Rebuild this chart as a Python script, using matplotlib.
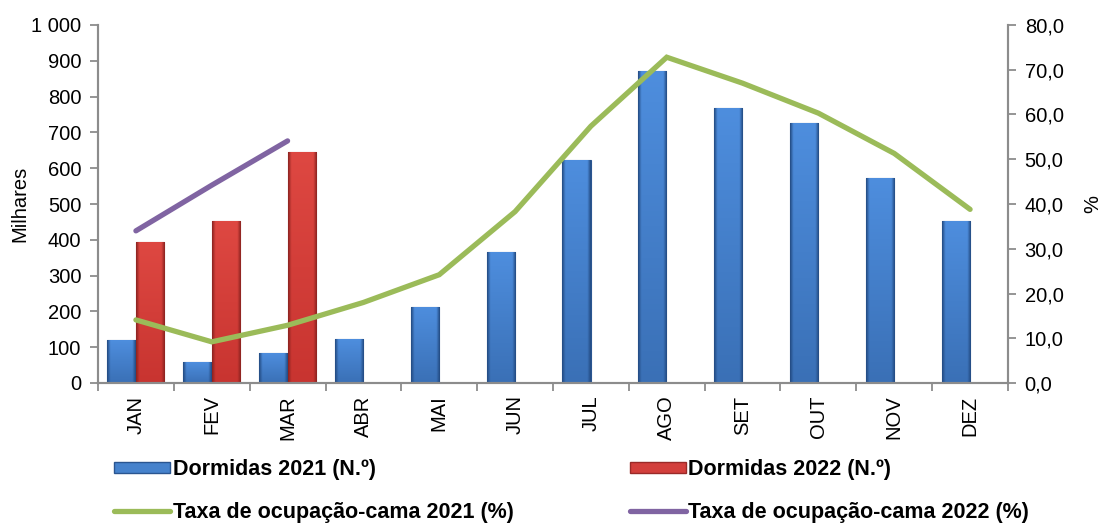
import numpy as np
import matplotlib
matplotlib.use("Agg")
import matplotlib.pyplot as plt
from matplotlib.ticker import FuncFormatter, FixedLocator
from matplotlib.lines import Line2D
from matplotlib.patches import Patch

plt.rcParams['font.family'] = ['Liberation Sans', 'DejaVu Sans']

months = ["JAN", "FEV", "MAR", "ABR", "MAI", "JUN", "JUL", "AGO", "SET", "OUT", "NOV", "DEZ"]
dormidas_2021 = [120, 58, 83, 122, 213, 365, 623, 872, 769, 727, 573, 453]
dormidas_2022 = [395, 452, 646]
taxa_2021 = [14.1, 9.2, 12.9, 18.0, 24.2, 38.3, 57.4, 72.8, 67.0, 60.3, 51.3, 38.8]
taxa_2022 = [34.0, 44.2, 54.1]

label_d21 = "Dormidas 2021 (N.º)"
label_d22 = "Dormidas 2022 (N.º)"
label_t21 = "Taxa de ocupação-cama 2021 (%)"
label_t22 = "Taxa de ocupação-cama 2022 (%)"

BLUE = "#4682cc"
RED = "#d33f3c"
GREEN = "#9bbb59"
PURPLE = "#8064a2"
AXCOL = "#8c8c8c"
FS = 14.5
LFS = 15.5

fig = plt.figure(figsize=(11.02, 5.23), dpi=100)
ax = fig.add_axes([98/1102, 1-383/523, (1008-98)/1102, (383-25)/523])
ax2 = ax.twinx()

x = np.arange(len(months))
w = 0.37
off = 0.19
b21 = ax.bar(x - off, dormidas_2021, width=w, color=BLUE, edgecolor="#2a5590", linewidth=0.8, zorder=2)
b22 = ax.bar(x[:len(dormidas_2022)] + off, dormidas_2022, width=w, color=RED, edgecolor="#9a2a28", linewidth=0.8, zorder=2)


def shade(bars, top, bottom, edge):
    top = np.array(top) / 255.0
    bottom = np.array(bottom) / 255.0
    edge = np.array(edge) / 255.0
    nx, ny = 64, 128
    xs = np.linspace(0, 1, nx)
    ys = np.linspace(0, 1, ny)[:, None]
    for b in bars:
        x0, y0 = b.get_x(), b.get_y()
        bw, bh = b.get_width(), b.get_height()
        base = bottom[None, None, :] * (1 - ys[..., None]) + top[None, None, :] * ys[..., None]
        base = np.repeat(base, nx, axis=1)
        d = np.minimum(xs, 1 - xs)
        ef = np.clip(d / 0.12, 0, 1)[None, :, None]
        img = base * ef + edge[None, None, :] * (1 - ef)
        img = img[::-1]
        im = ax.imshow(img, extent=[x0, x0 + bw, y0, y0 + bh], aspect='auto',
                       interpolation='bilinear', zorder=2.1, origin='upper')
        im.set_clip_path(b)


shade(b21, (78, 142, 222), (58, 112, 182), (35, 75, 130))
shade(b22, (222, 72, 66), (200, 52, 48), (140, 35, 32))

ax2.plot(x, taxa_2021, color=GREEN, lw=3.8, solid_capstyle='round', solid_joinstyle='miter', zorder=3)
ax2.plot(x[:len(taxa_2022)], taxa_2022, color=PURPLE, lw=3.8, solid_capstyle='round', zorder=3)

ax.set_xlim(-0.5, len(months) - 0.5)
ax.set_ylim(0, 1000)
ax2.set_ylim(0, 80)
ax.set_yticks(np.arange(0, 1001, 100))
ax2.set_yticks(np.arange(0, 81, 10))
ax.yaxis.set_major_formatter(FuncFormatter(lambda v, p: f"{int(v):,}".replace(",", " ")))
ax2.yaxis.set_major_formatter(FuncFormatter(lambda v, p: f"{v:.1f}".replace(".", ",")))

ax.set_xticks(x)
ax.set_xticklabels(months, rotation=90, fontsize=FS)
ax.xaxis.set_minor_locator(FixedLocator(np.arange(-0.5, len(months), 1.0)))
ax.tick_params(axis='x', which='major', length=0, pad=9)
ax.tick_params(axis='x', which='minor', length=6, color=AXCOL, width=1.3)
ax.tick_params(axis='y', length=6, color=AXCOL, width=1.3, labelsize=FS, pad=6)
ax2.tick_params(axis='y', length=6, color=AXCOL, width=1.3, labelsize=FS, pad=6)

for a in (ax, ax2):
    a.spines['top'].set_visible(False)
    for s in ('left', 'right', 'bottom'):
        a.spines[s].set_color(AXCOL)
        a.spines[s].set_linewidth(1.5)

ax.set_ylabel("Milhares", fontsize=FS, labelpad=1)
ax2.set_ylabel("%", fontsize=FS, labelpad=14, rotation=90)

handles = [
    Patch(facecolor=BLUE, edgecolor="#2a5590"),
    Line2D([], [], color=GREEN, lw=3.8, solid_capstyle='round'),
    Patch(facecolor=RED, edgecolor="#9a2a28"),
    Line2D([], [], color=PURPLE, lw=3.8, solid_capstyle='round'),
]
labels = [label_d21, label_t21, label_d22, label_t22]
fig.legend(handles, labels, ncol=2, loc='upper left', bbox_to_anchor=(114/1102, 1-459/523),
           frameon=False, prop={'weight': 'bold', 'size': LFS}, handlelength=2.6,
           handleheight=0.45, handletextpad=0.12, columnspacing=5.4, labelspacing=1.0,
           borderaxespad=0, borderpad=0)

fig.savefig("out.png", dpi=100)
